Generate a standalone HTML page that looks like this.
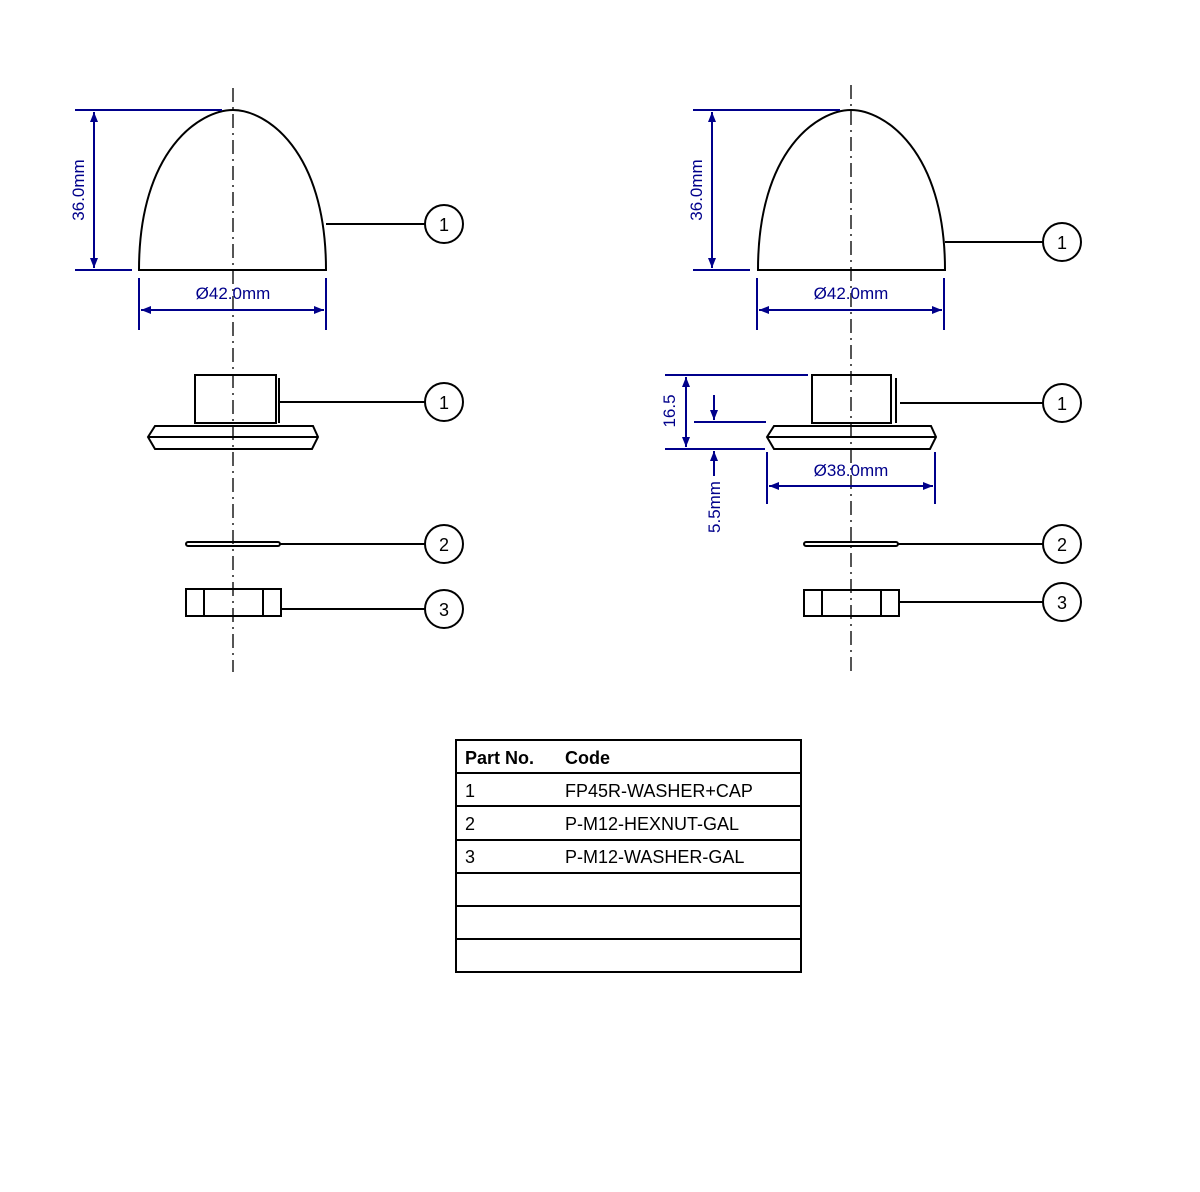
<!DOCTYPE html>
<html><head><meta charset="utf-8"><style>
html,body{margin:0;padding:0;background:#fff;}
svg{display:block;}
text{font-family:"Liberation Sans",Arial,sans-serif;}
</style></head><body>
<svg width="1200" height="1192" viewBox="0 0 1200 1192" xmlns="http://www.w3.org/2000/svg">
<defs>
<marker id="a" viewBox="0 0 10 10" refX="10" refY="5" markerWidth="10" markerHeight="10" markerUnits="userSpaceOnUse" orient="auto-start-reverse"><path d="M0,1 L10,5 L0,9 z" fill="#00008b"/></marker>
</defs>
<g stroke="#555" stroke-width="2" stroke-dasharray="14,5,2,5">
<line x1="233" y1="88" x2="233" y2="672"/>
<line x1="851" y1="85" x2="851" y2="672"/>
</g>
<g fill="none" stroke="#000" stroke-width="2">
<path d="M139,270 C139,150 200,110 233,110 C266,110 326,150 326,270 Z"/>
<path d="M758,270 C758,150 818,110 851,110 C884,110 945,150 945,270 Z"/>
<line x1="326" y1="224" x2="425" y2="224"/><circle cx="444" cy="224" r="19"/>
<line x1="945" y1="242" x2="1043" y2="242"/><circle cx="1062" cy="242" r="19"/>
<rect x="195" y="375" width="81" height="48"/>
<line x1="279" y1="378" x2="279" y2="423"/>
<path d="M155,426 L313,426 L318,437 L312,449 L155,449 L148,437 Z"/>
<line x1="149" y1="437" x2="317" y2="437"/>
<line x1="279" y1="402" x2="425" y2="402"/><circle cx="444" cy="402" r="19"/>
<rect x="186" y="542" width="94" height="4" rx="2"/>
<line x1="280" y1="544" x2="425" y2="544"/><circle cx="444" cy="544" r="19"/>
<rect x="186" y="589" width="95" height="27"/>
<line x1="204" y1="590" x2="204" y2="615"/><line x1="263" y1="590" x2="263" y2="615"/>
<line x1="281" y1="609" x2="425" y2="609"/><circle cx="444" cy="609" r="19"/>
<rect x="812" y="375" width="79" height="48"/>
<line x1="896" y1="378" x2="896" y2="423"/>
<path d="M774,426 L931,426 L936,437 L930,449 L774,449 L767,437 Z"/>
<line x1="768" y1="437" x2="935" y2="437"/>
<line x1="900" y1="403" x2="1043" y2="403"/><circle cx="1062" cy="403" r="19"/>
<rect x="804" y="542" width="94" height="4" rx="2"/>
<line x1="898" y1="544" x2="1043" y2="544"/><circle cx="1062" cy="544" r="19"/>
<rect x="804" y="590" width="95" height="26"/>
<line x1="822" y1="591" x2="822" y2="615"/><line x1="881" y1="591" x2="881" y2="615"/>
<line x1="899" y1="602" x2="1043" y2="602"/><circle cx="1062" cy="602" r="19"/>
</g>
<g font-size="18" text-anchor="middle" fill="#000">
<text x="444" y="231">1</text><text x="1062" y="249">1</text>
<text x="444" y="409">1</text><text x="1062" y="410">1</text>
<text x="444" y="551">2</text><text x="1062" y="551">2</text>
<text x="444" y="616">3</text><text x="1062" y="609">3</text>
</g>
<g stroke="#00008b" stroke-width="2" fill="none">
<line x1="75" y1="110" x2="222" y2="110"/><line x1="75" y1="270" x2="132" y2="270"/>
<line x1="94" y1="112" x2="94" y2="268" marker-start="url(#a)" marker-end="url(#a)"/>
<line x1="139" y1="278" x2="139" y2="330"/><line x1="326" y1="278" x2="326" y2="330"/>
<line x1="141" y1="310" x2="324" y2="310" marker-start="url(#a)" marker-end="url(#a)"/>
<line x1="693" y1="110" x2="840" y2="110"/><line x1="693" y1="270" x2="750" y2="270"/>
<line x1="712" y1="112" x2="712" y2="268" marker-start="url(#a)" marker-end="url(#a)"/>
<line x1="757" y1="278" x2="757" y2="330"/><line x1="944" y1="278" x2="944" y2="330"/>
<line x1="759" y1="310" x2="942" y2="310" marker-start="url(#a)" marker-end="url(#a)"/>
<line x1="665" y1="375" x2="808" y2="375"/><line x1="665" y1="449" x2="765" y2="449"/>
<line x1="686" y1="377" x2="686" y2="447" marker-start="url(#a)" marker-end="url(#a)"/>
<line x1="694" y1="422" x2="766" y2="422"/>
<line x1="714" y1="395" x2="714" y2="420" marker-end="url(#a)"/>
<line x1="714" y1="476" x2="714" y2="451" marker-end="url(#a)"/>
<line x1="767" y1="452" x2="767" y2="504"/><line x1="935" y1="452" x2="935" y2="504"/>
<line x1="769" y1="486" x2="933" y2="486" marker-start="url(#a)" marker-end="url(#a)"/>
</g>
<g fill="#00008b" font-size="17" text-anchor="middle">
<text x="233" y="299">Ø42.0mm</text>
<text x="851" y="299">Ø42.0mm</text>
<text x="851" y="476">Ø38.0mm</text>
<text transform="translate(84,190) rotate(-90)">36.0mm</text>
<text transform="translate(702,190) rotate(-90)">36.0mm</text>
<text transform="translate(675,411) rotate(-90)">16.5</text>
<text transform="translate(720,507) rotate(-90)">5.5mm</text>
</g>
<g stroke="#000" stroke-width="2" fill="none">
<rect x="456" y="740" width="345" height="232"/>
<line x1="456" y1="773" x2="801" y2="773"/>
<line x1="456" y1="806" x2="801" y2="806"/>
<line x1="456" y1="840" x2="801" y2="840"/>
<line x1="456" y1="873" x2="801" y2="873"/>
<line x1="456" y1="906" x2="801" y2="906"/>
<line x1="456" y1="939" x2="801" y2="939"/>
</g>
<g font-size="18" fill="#000">
<text x="465" y="764" font-weight="bold">Part No.</text>
<text x="565" y="764" font-weight="bold">Code</text>
<text x="465" y="797">1</text><text x="565" y="797">FP45R-WASHER+CAP</text>
<text x="465" y="830">2</text><text x="565" y="830">P-M12-HEXNUT-GAL</text>
<text x="465" y="863">3</text><text x="565" y="863">P-M12-WASHER-GAL</text>
</g>
</svg>
</body></html>
